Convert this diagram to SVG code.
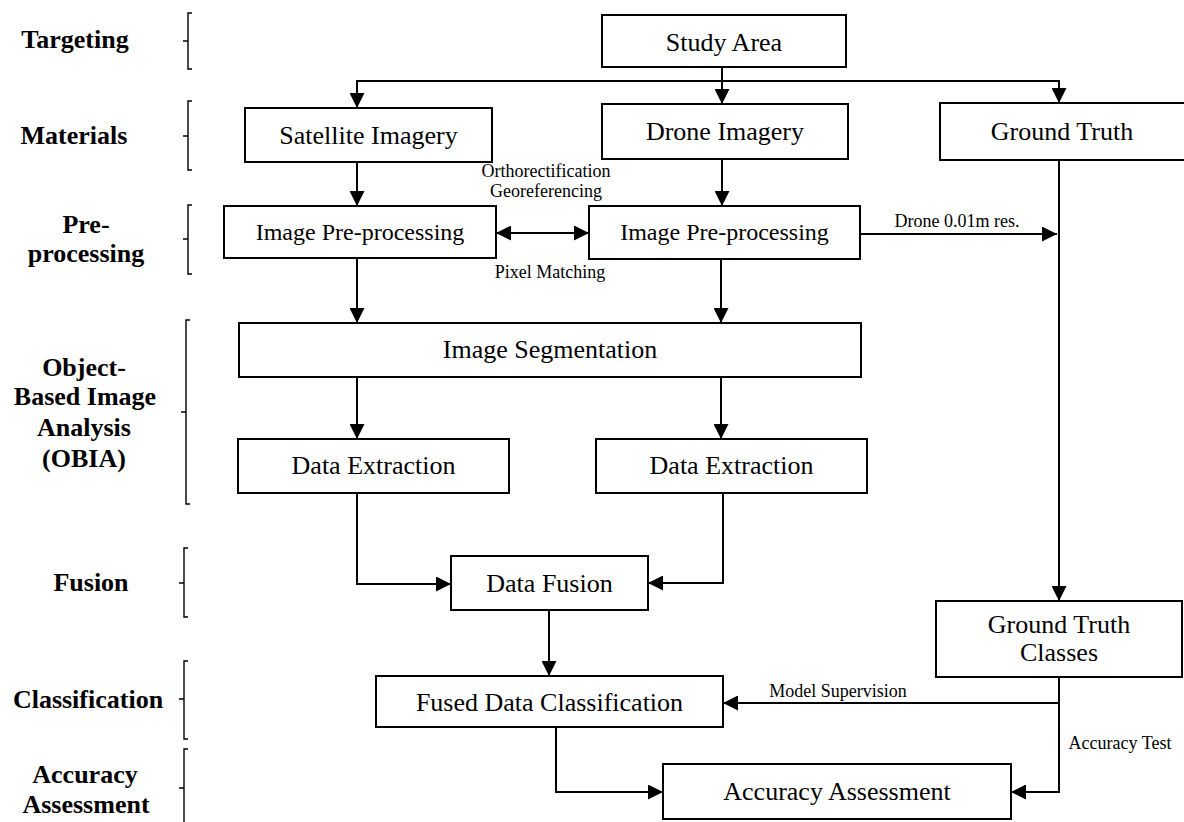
<svg xmlns="http://www.w3.org/2000/svg" width="1184" height="822" viewBox="0 0 1184 822">
<style>
.box{fill:#fff;stroke:#000;stroke-width:2}
.t{font-family:"Liberation Serif","Times New Roman",serif;font-size:26px;fill:#000;text-anchor:middle}
.t24{font-size:24px}
.sm{font-family:"Liberation Serif","Times New Roman",serif;font-size:18px;fill:#000;text-anchor:middle}
.lab{font-family:"Liberation Serif","Times New Roman",serif;font-size:26px;font-weight:bold;fill:#000;text-anchor:middle}
.br{fill:none;stroke:#000;stroke-width:1.4}
.c{fill:none;stroke:#000;stroke-width:2}
.a{marker-end:url(#ah)}
</style>
<defs>
<marker id="ah" viewBox="0 0 15 15" refX="15" refY="7.5" markerWidth="15" markerHeight="15" markerUnits="userSpaceOnUse" orient="auto-start-reverse">
<path d="M0,0 L15,7.5 L0,15 z" fill="#000"/>
</marker>
</defs>
<rect width="1184" height="822" fill="#fff"/>

<g id="stages">
<text class="lab" x="75" y="48">Targeting</text>
<text class="lab" x="74" y="144">Materials</text>
<text class="lab" x="86" y="233">Pre-</text>
<text class="lab" x="86" y="262">processing</text>
<text class="lab" x="84" y="376">Object-</text>
<text class="lab" x="85" y="405">Based Image</text>
<text class="lab" x="84" y="436">Analysis</text>
<text class="lab" x="84" y="467">(OBIA)</text>
<text class="lab" x="91" y="591">Fusion</text>
<text class="lab" x="88" y="708">Classification</text>
<text class="lab" x="85" y="783">Accuracy</text>
<text class="lab" x="86" y="813">Assessment</text>
</g>

<g id="brackets">
<path class="br" d="M192,13 H188 V69 H192 M183,41 H188"/>
<path class="br" d="M192,101 H188 V170 H192 M183,136 H188"/>
<path class="br" d="M192,205 H188 V274 H192 M183,239 H188"/>
<path class="br" d="M190,320 H186 V504 H190 M181,412 H186"/>
<path class="br" d="M188,548 H184 V617 H188 M179,583 H184"/>
<path class="br" d="M188,661 H184 V739 H188 M179,699 H184"/>
<path class="br" d="M188,749 H184 V830 M179,788 H184"/>
</g>

<g id="connectors">
<path class="c" d="M722,67 V81"/>
<path class="c" d="M357,81 H1059"/>
<path class="c a" d="M357,80 V108"/>
<path class="c a" d="M722,80 V104"/>
<path class="c a" d="M1059,80 V103"/>
<path class="c a" d="M357,162 V206"/>
<path class="c a" d="M722,159 V206"/>
<path class="c" d="M496,233 H589" marker-start="url(#ah)" marker-end="url(#ah)"/>
<path class="c a" d="M860,234 H1057"/>
<path class="c a" d="M357,258 V323"/>
<path class="c a" d="M721,259 V323"/>
<path class="c a" d="M357,377 V439"/>
<path class="c a" d="M721,377 V439"/>
<path class="c a" d="M357,493 V584 H451"/>
<path class="c a" d="M723,493 V583 H648"/>
<path class="c a" d="M549,610 V676"/>
<path class="c a" d="M1059,160 V601"/>
<path class="c a" d="M1059,703 H723"/>
<path class="c a" d="M1059,677 V792 H1011"/>
<path class="c a" d="M556,727 V792 H663"/>
<text class="sm" x="546" y="177">Orthorectification</text>
<text class="sm" x="546" y="197">Georeferencing</text>
<text class="sm" x="550" y="278">Pixel Matching</text>
<text class="sm" x="957" y="227">Drone 0.01m res.</text>
<text class="sm" x="838" y="697">Model Supervision</text>
<text class="sm" x="1120" y="749">Accuracy Test</text>
</g>

<g id="study-area"><rect class="box" x="602" y="15" width="244" height="52"/><text class="t" x="724" y="51">Study Area</text></g>
<g id="satellite-imagery"><rect class="box" x="245" y="108" width="247" height="54"/><text class="t" x="368.5" y="144">Satellite Imagery</text></g>
<g id="drone-imagery"><rect class="box" x="602" y="104" width="246" height="55"/><text class="t" x="725" y="140">Drone Imagery</text></g>
<g id="ground-truth"><rect class="box" x="940" y="103" width="250" height="57"/><text class="t" x="1062" y="140">Ground Truth</text></g>
<g id="sat-preprocessing"><rect class="box" x="224" y="206" width="272" height="52"/><text class="t t24" x="360" y="240">Image Pre-processing</text></g>
<g id="drone-preprocessing"><rect class="box" x="589" y="206" width="271" height="53"/><text class="t t24" x="724.5" y="240">Image Pre-processing</text></g>
<g id="image-segmentation"><rect class="box" x="239" y="323" width="622" height="54"/><text class="t" x="550" y="358">Image Segmentation</text></g>
<g id="data-extraction-left"><rect class="box" x="238" y="439" width="271" height="54"/><text class="t" x="373.5" y="474">Data Extraction</text></g>
<g id="data-extraction-right"><rect class="box" x="596" y="439" width="271" height="54"/><text class="t" x="731.5" y="474">Data Extraction</text></g>
<g id="data-fusion"><rect class="box" x="451" y="556" width="197" height="54"/><text class="t" x="549.5" y="592">Data Fusion</text></g>
<g id="ground-truth-classes"><rect class="box" x="936" y="601" width="246" height="76"/><text class="t" x="1059" y="633">Ground Truth</text><text class="t" x="1059" y="661">Classes</text></g>
<g id="fused-data-classification"><rect class="box" x="376" y="676" width="347" height="51"/><text class="t" x="549.5" y="711">Fused Data Classification</text></g>
<g id="accuracy-assessment"><rect class="box" x="663" y="764" width="348" height="55"/><text class="t" x="837" y="800">Accuracy Assessment</text></g>
</svg>
